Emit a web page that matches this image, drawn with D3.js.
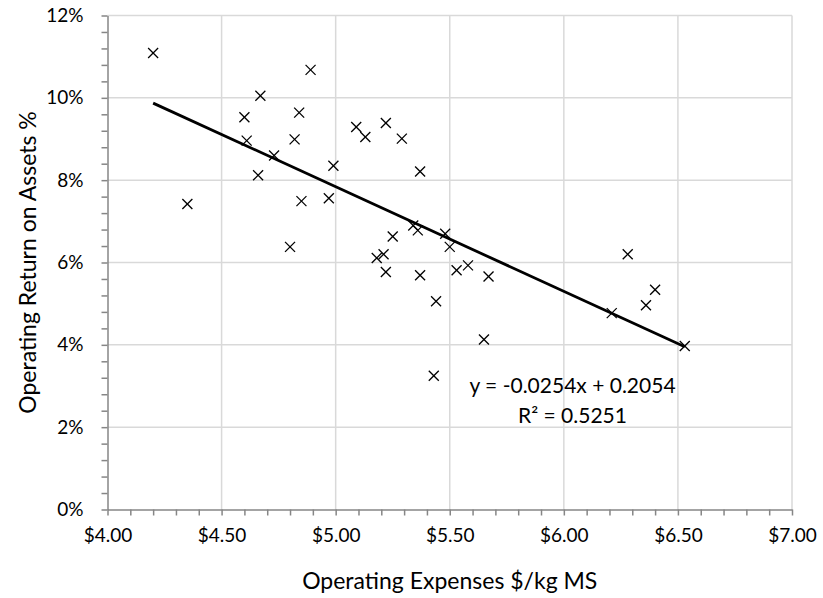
<!DOCTYPE html>
<html>
<head>
<meta charset="utf-8">
<script src="https://cdn.jsdelivr.net/npm/d3@7"></script>
<style>
  body { margin: 0; background: #fff; }
  text { font-family: Lato, 'Open Sans', sans-serif; fill: #000; }
  .grid line { stroke: #d9d9d9; stroke-width: 1.5; }
  .axis path, .axis line { stroke: #868686; stroke-width: 1.5; }
  .axis text { font-size: 19px; fill: #000; }
  .marker { stroke: #000; stroke-width: 1.3; }
  .trend { stroke: #000; stroke-width: 2.8; fill: none; }
</style>
</head>
<body>
<script>
// operating expenses ($/kg MS) and operating return on assets, one entry per farm
var expenses = [4.20, 4.89, 4.67, 4.60, 4.84, 5.09, 5.13, 5.22, 5.29, 4.61,
                4.82, 4.73, 4.99, 5.37, 4.66, 4.35, 4.85, 4.97, 4.80, 5.34,
                5.36, 5.25, 5.48, 5.50, 5.18, 5.21, 5.22, 5.37, 5.53, 5.58,
                5.67, 5.44, 5.65, 5.43, 6.28, 6.40, 6.36, 6.21, 6.53];
var returns  = [0.1109, 0.1068, 0.1005, 0.0953, 0.0964, 0.0929, 0.0905, 0.0939, 0.0901, 0.0896,
                0.0899, 0.0860, 0.0835, 0.0821, 0.0812, 0.0742, 0.0749, 0.0756, 0.0638, 0.0690,
                0.0678, 0.0663, 0.0670, 0.0638, 0.0611, 0.0620, 0.0577, 0.0569, 0.0581, 0.0593,
                0.0566, 0.0506, 0.0413, 0.0325, 0.0620, 0.0534, 0.0496, 0.0477, 0.0397];

var xTicks = [4, 4.5, 5, 5.5, 6, 6.5, 7];
var yTicks = [0, 0.02, 0.04, 0.06, 0.08, 0.10, 0.12];

var trendSlope = -0.0254,
    trendIntercept = 0.2054,
    rSquared = 0.5251;

var svgWidth = 823,
    svgHeight = 598,
    plot = { left: 107.5, right: 792, top: 15.5, bottom: 509.5 };

var x = d3.scaleLinear().domain([4, 7]).range([plot.left, plot.right]);
var y = d3.scaleLinear().domain([0, 0.12]).range([plot.bottom, plot.top]);

var svg = d3.select('body').append('svg')
  .attr('width', svgWidth)
  .attr('height', svgHeight);

function isMajor (v, step) {
  var r = v / step;
  return Math.abs(r - Math.round(r)) < 1e-6;
}

function addGrid () {
  var grid = svg.append('g').attr('class', 'grid');

  grid.selectAll('.gx')
    .data(xTicks.slice(1))
    .enter().append('line')
      .attr('x1', function (d) { return x(d); })
      .attr('x2', function (d) { return x(d); })
      .attr('y1', y(0))
      .attr('y2', y(0.12));

  grid.selectAll('.gy')
    .data(yTicks.slice(1))
    .enter().append('line')
      .attr('x1', x(4))
      .attr('x2', x(7))
      .attr('y1', function (d) { return y(d); })
      .attr('y2', function (d) { return y(d); });
}

function addAxes () {
  var dollar = d3.format('$.2f'),
      pct = d3.format('.0%');

  var xMinor = d3.range(40, 71).map(function (d) { return d / 10; }),
      yMinor = d3.range(0, 31).map(function (d) { return d * 0.004; });

  var xAxis = d3.axisBottom(x)
    .tickValues(xMinor)
    .tickSizeInner(6).tickSizeOuter(0).tickPadding(13)
    .tickFormat(function (d) { return isMajor(d, 0.5) && xTicks.indexOf(+d.toFixed(1)) !== -1 ? dollar(d) : ''; });

  var yAxis = d3.axisLeft(y)
    .tickValues(yMinor)
    .tickSizeInner(6).tickSizeOuter(0).tickPadding(18)
    .tickFormat(function (d) { return isMajor(d, 0.02) ? pct(d) : ''; });

  svg.append('g')
    .attr('class', 'x axis')
    .attr('transform', 'translate(0,' + plot.bottom + ')')
    .call(xAxis);

  svg.append('g')
    .attr('class', 'y axis')
    .attr('transform', 'translate(' + plot.left + ',0)')
    .call(yAxis);

  svg.selectAll('.axis .domain').attr('stroke', '#868686');
  svg.selectAll('.axis text').attr('font-family', null);

  svg.append('text')
    .attr('x', (plot.left + plot.right) / 2)
    .attr('y', 589)
    .attr('text-anchor', 'middle')
    .style('font-size', '23px')
    .text('Operating Expenses $/kg MS');

  svg.append('text')
    .attr('transform', 'translate(36,' + (plot.top + plot.bottom) / 2 + ') rotate(-90)')
    .attr('text-anchor', 'middle')
    .style('font-size', '23px')
    .text('Operating Return on Assets %');
}

function drawPoints () {
  var pts = expenses.map(function (e, i) { return { x: e, y: returns[i] }; });
  var s = 5;

  var marks = svg.append('g').selectAll('g')
    .data(pts)
    .enter().append('g')
      .attr('transform', function (d) { return 'translate(' + x(d.x) + ',' + y(d.y) + ')'; });

  marks.append('line').attr('class', 'marker')
    .attr('x1', -s).attr('y1', -s).attr('x2', s).attr('y2', s);
  marks.append('line').attr('class', 'marker')
    .attr('x1', -s).attr('y1', s).attr('x2', s).attr('y2', -s);
}

function drawTrend () {
  var ends = d3.extent(expenses);
  var line = d3.line()
    .x(function (d) { return x(d); })
    .y(function (d) { return y(trendSlope * d + trendIntercept); });

  svg.append('path')
    .attr('class', 'trend')
    .attr('d', line(ends));

  var label = svg.append('text')
    .attr('text-anchor', 'middle')
    .style('font-size', '21px');

  label.append('tspan')
    .attr('x', 572.5).attr('y', 393)
    .text('y = ' + trendSlope + 'x + ' + trendIntercept);
  label.append('tspan')
    .attr('x', 572.5).attr('y', 422.5)
    .text('R\u00b2 = ' + rSquared);
}

addGrid();
drawTrend();
drawPoints();
addAxes();
</script>
</body>
</html>
